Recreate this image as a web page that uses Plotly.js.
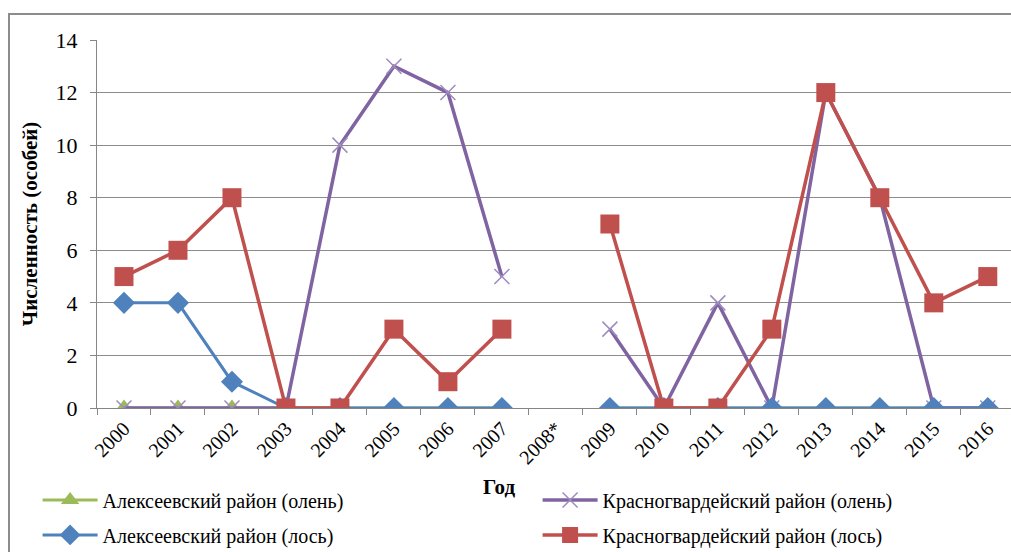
<!DOCTYPE html>
<html>
<head>
<meta charset="utf-8">
<script src="https://cdn.plot.ly/plotly-3.0.1.min.js"></script>
<style>
  html, body { margin: 0; padding: 0; overflow: hidden; background: #fff; font-family: 'Liberation Serif', serif; }
  #chart { width: 1011px; height: 552px; position: absolute; left: 0; top: 0; }
  #chart text { font-family: 'Liberation Serif', 'Times New Roman', serif !important; }
  #frame { position: absolute; left: 8px; top: 13px; width: 1100px; height: 700px;
           border: 2px solid #8c8c8c; pointer-events: none; }
</style>
</head>
<body>
<div id="chart"></div>
<div id="frame"></div>
<script>
const years = ["2000","2001","2002","2003","2004","2005","2006","2007","2008*","2009","2010","2011","2012","2013","2014","2015","2016"];
const alekDeer  = [0,0,0,0,0,0,0,0,null,0,0,0,0,0,0,0,0];
const krasDeer  = [0,0,0,0,10,13,12,5,null,3,0,4,0,12,8,0,0];
const alekMoose = [4,4,1,0,0,0,0,0,null,0,0,0,0,0,0,0,0];
const krasMoose = [5,6,8,0,0,3,1,3,null,7,0,0,3,12,8,4,5];
const seriesNames = ["Алексеевский район (олень)","Красногвардейский район (олень)","Алексеевский район (лось)","Красногвардейский район (лось)"];
const yTicks = [0,2,4,6,8,10,12,14];

function fnt(size) { return {family: 'Liberation Serif', size: size, color: '#000'}; }

const traces = [
  { x: years, y: alekDeer, name: seriesNames[0], type: 'scatter', mode: 'lines+markers', legend: 'legend',
    line: {color: '#9BBB59', width: 3}, marker: {symbol: 'triangle-up', size: 17, color: '#9BBB59'} },
  { x: years, y: krasDeer, name: seriesNames[1], type: 'scatter', mode: 'lines+markers', legend: 'legend',
    line: {color: '#8064A2', width: 3.5}, marker: {symbol: 'x-thin-open', size: 15, color: '#9e8bc0', line: {color: '#9e8bc0', width: 1.5}} },
  { x: years, y: alekMoose, name: seriesNames[2], type: 'scatter', mode: 'lines+markers', legend: 'legend2',
    line: {color: '#4F81BD', width: 3}, marker: {symbol: 'diamond', size: 17, color: '#4F81BD'} },
  { x: years, y: krasMoose, name: seriesNames[3], type: 'scatter', mode: 'lines+markers', legend: 'legend2',
    line: {color: '#C0504D', width: 3.5}, marker: {symbol: 'square', size: 19, color: '#C0504D'} }
];

function legendAt(y) {
  return {
    orientation: 'h', x: -0.065, y: y, xanchor: 'left', yanchor: 'middle',
    entrywidth: 430, entrywidthmode: 'pixels', itemwidth: 55,
    font: fnt(20),
    bgcolor: 'rgba(0,0,0,0)', traceorder: 'normal'
  };
}

const layout = {
  width: 1011, height: 552,
  margin: {l: 97, r: 0, t: 40, b: 144, autoexpand: false},
  paper_bgcolor: '#fff', plot_bgcolor: '#fff',
  showlegend: true,
  font: fnt(20),
  xaxis: {
    type: 'category', categoryorder: 'array', categoryarray: years,
    range: [-0.5, 16.43],
    tickangle: -45, tickfont: fnt(20),
    ticks: 'outside', ticklen: 6, tickcolor: '#868686', tickson: 'boundaries',
    showline: true, linecolor: '#868686', linewidth: 1,
    showgrid: false, zeroline: false, fixedrange: true, automargin: false
  },
  yaxis: {
    range: [0, 14], tickvals: yTicks, ticktext: yTicks.map(String),
    tickfont: fnt(22), ticklabelstandoff: 8,
    ticks: 'outside', ticklen: 6, tickcolor: '#868686',
    showline: true, linecolor: '#868686', linewidth: 1,
    showgrid: true, gridcolor: '#8c8c8c', gridwidth: 1,
    zeroline: false, fixedrange: true, automargin: false
  },
  annotations: [
    {text: '<b>Численность (особей)</b>', textangle: -90, xref: 'paper', yref: 'paper',
     x: -0.073, y: 0.5, xanchor: 'center', yanchor: 'middle', showarrow: false,
     font: fnt(21)},
    {text: '<b>Год</b>', xref: 'paper', yref: 'paper', x: 0.44, y: -0.215,
     xanchor: 'center', yanchor: 'middle', showarrow: false,
     font: fnt(21)}
  ],
  legend: legendAt(-0.25),
  legend2: legendAt(-0.345)
};

Plotly.newPlot('chart', traces, layout, {displayModeBar: false, staticPlot: true});
</script>
</body>
</html>
